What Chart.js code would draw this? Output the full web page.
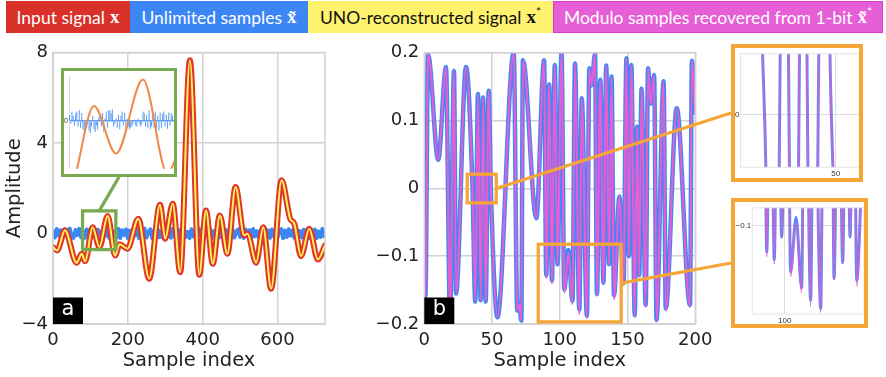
<!DOCTYPE html>
<html><head><meta charset="utf-8">
<script src="https://cdn.jsdelivr.net/npm/chart.js@4/dist/chart.umd.min.js"></script>
<style>
html,body{margin:0;padding:0;background:#fff;}
body{width:886px;height:377px;position:relative;overflow:hidden;font-family:Lato,"DejaVu Sans",sans-serif;}
.cw{position:absolute;top:0;}
.lg{position:absolute;top:1px;height:32px;display:flex;align-items:center;justify-content:center;font-size:17.5px;white-space:nowrap;box-sizing:border-box;z-index:5}
.m{font-family:"Liberation Serif",serif;font-weight:bold;font-size:19px;margin-left:5px}
.st{font-size:12px;position:relative;top:-6px}
.ins{position:absolute;box-sizing:border-box;background:#fff;z-index:4}
.ins canvas{display:block}
</style></head>
<body>
<div class="cw" style="left:0;width:360px;height:377px"><canvas id="cA" width="360" height="377"></canvas></div>
<div class="cw" style="left:360px;width:526px;height:377px"><canvas id="cB" width="526" height="377"></canvas></div>

<div class="lg" style="left:6px;width:124px;background:#d9302a;color:#fff">Input signal<span class="m">x</span></div>
<div class="lg" style="left:130px;width:178px;background:#3b86f4;color:#fff">Unlimited samples<span class="m">x&#771;</span></div>
<div class="lg" style="left:308px;width:245px;background:#fff36e;color:#111">UNO-reconstructed signal<span class="m">x</span><span class="st">*</span></div>
<div class="lg" style="left:553px;width:330px;background:#e65fd6;color:#fff;border:1.5px solid #d23fcc">Modulo samples recovered from 1-bit<span class="m">x&#771;</span><span class="st">*</span></div>

<div id="insA" class="ins" style="left:61px;top:68px;width:116px;height:109px;border:3px solid #79aa52"><canvas id="cIA" width="110" height="103"></canvas></div>
<div id="insB1" class="ins" style="left:731px;top:44px;width:132px;height:138px;border:4px solid #f5a636"><canvas id="cIB1" width="124" height="130"></canvas></div>
<div id="insB2" class="ins" style="left:731px;top:198px;width:137px;height:130px;border:4px solid #f5a636"><canvas id="cIB2" width="129" height="122"></canvas></div>

<script>
// ---------- DATA ----------
// Panel a: input signal x (and UNO reconstruction x*, which coincides) — extrema
const aSigX = [0, 11, 32, 63, 77, 86, 106, 124, 146, 166, 178, 199, 228, 257, 286, 300, 320, 340, 366, 391, 409, 427, 446, 466, 488, 511, 520, 543, 562, 583, 611, 634, 645, 663, 685, 708, 727];
const aSigY = [-0.6, -0.75, 0.14, -1.29, -0.9, -1.23, 0.28, -0.6, 0.77, -0.97, -0.48, -0.67, 0.65, -2.0, 1.27, -0.23, 1.32, -1.71, 7.66, -1.82, 1.02, -1.34, 0.80, -0.9, 2.05, -0.08, -0.01, -1.29, 0.28, -2.44, 2.35, 0.65, 0.43, -1.0, 0.21, -1.15, -0.53];
const aRecY = aSigY; // reconstructed signal overlays the input
// Panel a: unlimited (modulo) samples, every 5th sample index
const aBlueStep = 5;
const aBlueY = [0.12,-0.18,0.2,-0.1,0.15,-0.22,0.08,0.18,-0.15,0.22,-0.12,-0.2,0.16,-0.08,0.21,-0.17,0.1,-0.2,0.18,-0.05,
0.2,-0.16,0.12,-0.22,0.17,0.05,-0.19,0.22,-0.11,0.14,-0.2,0.19,-0.14,0.09,-0.18,0.21,-0.2,0.15,-0.07,0.18,
-0.21,0.13,-0.16,0.2,-0.09,0.17,-0.2,0.11,-0.15,0.22,-0.18,0.06,0.19,-0.2,0.14,-0.12,0.2,-0.17,0.1,-0.21,
0.18,-0.08,0.16,-0.19,0.21,-0.14,0.12,-0.2,0.17,-0.1,0.2,-0.16,0.08,-0.21,0.19,-0.13,0.15,-0.18,0.22,-0.06,
0.14,-0.2,0.17,-0.12,0.2,-0.19,0.1,-0.15,0.21,-0.17,0.13,-0.08,0.18,-0.21,0.16,-0.11,0.2,-0.18,0.07,0.19,
-0.16,0.12,-0.2,0.18,-0.09,0.15,-0.22,0.2,-0.13,0.1,-0.19,0.17,-0.15,0.21,-0.07,0.14,-0.2,0.18,-0.12,0.16,
-0.18,0.09,0.2,-0.21,0.13,-0.16,0.19,-0.1,0.15,-0.2,0.22,-0.14,0.11,-0.18,0.17,-0.09,0.2,-0.19,0.14,-0.12,
0.18,-0.2,0.1,-0.16,0.21,-0.13];
// Inset of panel a: modulo samples at indices 86..170
const iaFirst = 86;
const iaBlueY = [0.12,-0.05,0.18,0.1,-0.08,0.15,0.18,-0.1,0.2,-0.12,
0.15,-0.15,-0.18,-0.2,-0.12,0.05,-0.18,-0.22,-0.1,0.1,
-0.15,-0.2,-0.08,-0.16,0.08,0.1,-0.1,0.15,-0.2,0.05,
0.18,-0.12,0.2,0.2,0.15,0.22,-0.1,-0.05,0.05,-0.12,
0.12,-0.15,0.1,0.18,-0.08,0.15,-0.2,0.05,-0.1,-0.15,
-0.12,-0.1,-0.05,0.03,-0.08,-0.1,0.05,-0.04,-0.1,-0.06,
0.18,0.15,-0.1,0.12,-0.12,0.2,-0.15,-0.1,0.15,-0.12,
0.18,-0.15,0.1,-0.18,0.16,-0.12,0.14,0.18,-0.1,0.12,
-0.14,0.16,-0.08,0.15,0.1];
// Panel b: unlimited samples (blue) and recovered modulo samples (magenta) — extrema
const bX = [0,0.8,2.8,10.3,16,19,21.9,23.4,30.8,35.6, 37.6,39.6,41.6,43.4,45.3,47.5,49.1,54,66,68.6,
70,71.6,72.8,82.7,88.4,90,92.2,94.2,96.3,98.3, 101.3,103.3,106.3,109.4,111.2,114.4,116.2,120,121.8,123.5,
126,127.4,129.9,132.2,134.3,136.3,138.2,140,144,147, 149.2,151,152.8,155.3,157,158.6,160.3,163.4,165.1,167.1,
169.6,171.4,176.6,178.2,186.3,196.1,197.5,200];
const bBlueY = [-0.138,-0.16,0.197,0.042,0.179,-0.19,0.173,-0.155,0.179,0.0, -0.167,0.139,-0.165,0.134,-0.167,0.144,0.0,-0.19,0.2,-0.18,
-0.17,-0.195,0.189,-0.044,0.189,-0.128,0.153,-0.136,0.182,-0.112, 0.2,-0.149,-0.091,-0.166,0.184,-0.179,0.133,-0.188,0.177,0.152,
0.199,-0.156,0.16,-0.139,0.181,-0.112,0.165,-0.158,-0.012,-0.14, 0.192,-0.10,0.182,-0.187,0.091,-0.128,0.147,-0.172,0.177,0.125,
0.167,-0.194,0.158,-0.177,0.118,-0.172,0.188,0.111];
const bMagY = [-0.138,-0.16,0.2,0.042,0.179,-0.19,0.173,-0.155,0.179,0.0, -0.167,0.139,-0.165,0.134,-0.167,0.144,0.0,-0.19,0.2,-0.18,
-0.17,-0.195,0.189,-0.044,0.189,-0.133,0.153,-0.141,0.182,-0.113, 0.2,-0.154,-0.095,-0.171,0.184,-0.186,0.133,-0.192,0.177,0.152,
0.199,-0.158,0.16,-0.141,0.181,-0.113,0.165,-0.164,-0.012,-0.142, 0.192,-0.10,0.182,-0.189,0.091,-0.13,0.147,-0.175,0.177,0.125,
0.167,-0.196,0.158,-0.18,0.118,-0.175,0.188,0.111];
// tick values
const aXTicks = [0, 200, 400, 600];
const aYTicks = [-4, 0, 4, 8];
const bXTicks = [0, 50, 100, 150, 200];
const bYTicks = [-0.2, -0.1, 0, 0.1, 0.2];

// ---------- HELPERS ----------
const pts = (xs, ys) => xs.map((x, i) => ({x, y: ys[i]}));
const idxPts = (start, step, ys) => ys.map((y, i) => ({x: start + i * step, y}));
const fmt = v => String(Math.round(v * 10) / 10).replace('-', '\u2212');
const setTicks = list => s => { s.ticks = list.map(v => ({value: v})); };

Chart.defaults.font.family = '"DejaVu Sans", sans-serif';
Chart.defaults.color = '#222';
Chart.defaults.elements.line.borderJoinStyle = 'round';
Chart.defaults.elements.line.borderCapStyle = 'round';

const decor = {
  id: 'decor',
  afterDraw(chart, args, o) {
    if (!o || !o.on) return;
    const {ctx, chartArea: ca} = chart;
    const xs = chart.scales.x, ys = chart.scales.y;
    ctx.save();
    if (o.frame) {
      ctx.strokeStyle = o.frame; ctx.lineWidth = o.frameWidth || 1.5;
      ctx.strokeRect(ca.left, ca.top, ca.right - ca.left, ca.bottom - ca.top);
    }
    if (o.tag) {
      ctx.fillStyle = '#000';
      ctx.fillRect(ca.left, ca.bottom - 26.5, 30, 26.5);
      ctx.fillStyle = '#fff'; ctx.font = '21px "DejaVu Sans"';
      ctx.textAlign = 'center'; ctx.textBaseline = 'middle';
      ctx.fillText(o.tag, ca.left + 15, ca.bottom - 14);
    }
    (o.zooms || []).forEach(z => {
      const x0 = xs.getPixelForValue(z.x[0]), x1 = xs.getPixelForValue(z.x[1]);
      const y0 = ys.getPixelForValue(z.y[1]), y1 = ys.getPixelForValue(z.y[0]);
      ctx.strokeStyle = z.color; ctx.lineWidth = 3.3;
      ctx.strokeRect(x0, y0, x1 - x0, y1 - y0);
      const cr = chart.canvas.getBoundingClientRect();
      const tr = document.getElementById(z.target).getBoundingClientRect();
      let sx, sy, ex, ey;
      if (z.link === 'up') { sx = (x0 + x1) / 2; sy = y0; ex = (tr.left + tr.right) / 2 - cr.left; ey = tr.bottom - cr.top; }
      else { sx = x1; sy = (y0 + y1) / 2; ex = tr.left - cr.left; ey = (tr.top + tr.bottom) / 2 - cr.top; }
      ctx.beginPath(); ctx.moveTo(sx, sy); ctx.lineTo(ex, ey); ctx.stroke();
    });
    ctx.restore();
  }
};
Chart.register(decor);

const GRID = '#d2d2d2';
const base = {responsive: false, animation: false, devicePixelRatio: 1, events: [],
  elements: {point: {radius: 0}}};

// ---------- PANEL A ----------
new Chart(document.getElementById('cA'), {
  type: 'line',
  data: {datasets: [
    {label: 'UNO-reconstructed signal x*', data: pts(aSigX, aRecY), borderColor: '#fff35a', borderWidth: 2, cubicInterpolationMode: 'monotone'},
    {label: 'Input signal x', data: pts(aSigX, aSigY), borderColor: '#e0352b', borderWidth: 6, cubicInterpolationMode: 'monotone'},
    {label: 'Unlimited samples', data: idxPts(0, aBlueStep, aBlueY), borderColor: '#3a86f3', borderWidth: 3.8, tension: 0}
  ]},
  options: Object.assign({}, base, {
    layout: {padding: {top: 52.5, right: 35, bottom: 0, left: 0}},
    plugins: {legend: {display: false}, tooltip: {enabled: false},
      decor: {on: true, frame: GRID, frameWidth: 1.5, tag: 'a',
        zooms: [{x: [79, 168], y: [-0.71, 1.0], target: 'insA', link: 'up', color: '#79aa52'}]}},
    scales: {
      x: {type: 'linear', min: 0, max: 727, afterBuildTicks: setTicks(aXTicks), afterFit: s => { s.height = 53; },
        grid: {color: GRID, lineWidth: 1.5, drawTicks: false}, border: {color: GRID, width: 1.5},
        ticks: {font: {size: 18}, padding: 6, color: '#222', callback: fmt, maxRotation: 0},
        title: {display: true, text: 'Sample index', font: {size: 19.5}, color: '#222', padding: {top: 0, bottom: 4}}},
      y: {type: 'linear', min: -4, max: 8, afterBuildTicks: setTicks(aYTicks), afterFit: s => { s.width = 53; },
        grid: {color: GRID, lineWidth: 1.5, drawTicks: false}, border: {color: GRID, width: 1.5},
        ticks: {font: {size: 18}, padding: 5, color: '#222', callback: fmt},
        title: {display: true, text: 'Amplitude', font: {size: 19.5}, color: '#222', padding: {top: 3, bottom: 0}}}
    }
  })
});

// ---------- PANEL B ----------
new Chart(document.getElementById('cB'), {
  type: 'line',
  data: {datasets: [
    {label: 'Modulo samples recovered', data: pts(bX, bMagY), borderColor: '#ea5cd3', borderWidth: 2, cubicInterpolationMode: 'monotone'},
    {label: 'Unlimited samples', data: pts(bX, bBlueY), borderColor: '#4189f2', borderWidth: 4.5, cubicInterpolationMode: 'monotone'}
  ]},
  options: Object.assign({}, base, {
    layout: {padding: {top: 52.7, right: 190.7, bottom: 0, left: 0}},
    plugins: {legend: {display: false}, tooltip: {enabled: false},
      decor: {on: true, frame: GRID, frameWidth: 1.5, tag: 'b',
        zooms: [
          {x: [31.7, 53.1], y: [-0.0214, 0.0208], target: 'insB1', link: 'right', color: '#f5a636'},
          {x: [84.1, 145.3], y: [-0.1969, -0.0824], target: 'insB2', link: 'right', color: '#f5a636'}
        ]}},
    scales: {
      x: {type: 'linear', min: 0, max: 200, afterBuildTicks: setTicks(bXTicks), afterFit: s => { s.height = 53; },
        grid: {color: GRID, lineWidth: 1.5, drawTicks: false}, border: {color: GRID, width: 1.5},
        ticks: {font: {size: 18}, padding: 6, color: '#222', callback: fmt, maxRotation: 0},
        title: {display: true, text: 'Sample index', font: {size: 19.5}, color: '#222', padding: {top: 0, bottom: 4}}},
      y: {type: 'linear', min: -0.2, max: 0.2, afterBuildTicks: setTicks(bYTicks), afterFit: s => { s.width = 64.3; },
        grid: {color: GRID, lineWidth: 1.5, drawTicks: false}, border: {color: GRID, width: 1.5},
        ticks: {font: {size: 18}, padding: 5, color: '#222', callback: fmt}}
    }
  })
});

// ---------- INSET A ----------
new Chart(document.getElementById('cIA'), {
  type: 'line',
  data: {datasets: [
    {type: 'line', data: pts(aSigX, aSigY), borderColor: '#ef8a4a', borderWidth: 2, cubicInterpolationMode: 'monotone', clip: 0},
    {type: 'bar', data: idxPts(iaFirst, 1, iaBlueY), backgroundColor: '#5f9ef6', borderWidth: 0, barPercentage: 0.85, categoryPercentage: 1}
  ]},
  options: Object.assign({}, base, {
    layout: {padding: 0},
    plugins: {legend: {display: false}, tooltip: {enabled: false}},
    scales: {
      x: {type: 'linear', min: 85.6, max: 171.3, offset: false, display: false},
      y: {type: 'linear', min: -0.883, max: 0.833, afterBuildTicks: setTicks([0]), afterFit: s => { s.width = 5; },
        grid: {color: '#5f9ef6', lineWidth: 1.4, drawTicks: false}, border: {color: '#dadada', width: 1},
        ticks: {font: {size: 7, family: '"Liberation Sans"'}, padding: 1, color: '#333', callback: fmt}}
    }
  })
});

// ---------- INSETS B ----------
function insetB(id, xr, yr, xt, yt, yw, xh, padTop) {
  new Chart(document.getElementById(id), {
    type: 'line',
    data: {datasets: [
      {data: pts(bX, bMagY), borderColor: 'rgba(230,88,210,0.8)', borderWidth: 1.6, cubicInterpolationMode: 'monotone', clip: 0},
      {data: pts(bX, bBlueY), borderColor: '#5a8ef2', borderWidth: 3, cubicInterpolationMode: 'monotone', clip: 0}
    ]},
    options: Object.assign({}, base, {
      layout: {padding: {top: padTop, right: 0, bottom: 0, left: 0}},
      plugins: {legend: {display: false}, tooltip: {enabled: false}, decor: {on: true, frame: '#e4e4e4', frameWidth: 1}},
      scales: {
        x: {type: 'linear', min: xr[0], max: xr[1], afterBuildTicks: setTicks(xt), afterFit: s => { s.height = xh; },
          grid: {color: '#dcdcdc', lineWidth: 1, drawTicks: false}, border: {display: false},
          ticks: {font: {size: 8, family: '"Liberation Sans"'}, padding: 1.5, color: '#333', callback: fmt, maxRotation: 0}},
        y: {type: 'linear', min: yr[0], max: yr[1], afterBuildTicks: setTicks(yt), afterFit: s => { s.width = yw; },
          grid: {color: '#dcdcdc', lineWidth: 1, drawTicks: false}, border: {display: false},
          ticks: {font: {size: 8, family: '"Liberation Sans"'}, padding: 1, color: '#333', callback: fmt}}
      }
    })
  });
}
insetB('cIB1', [30.74, 54.7], [-0.0205, 0.0235], [50], [0], 5.5, 10.7, 1.3);
insetB('cIB2', [82, 144.05], [-0.1936, -0.0809], [100], [-0.1], 17.3, 10, 0);
</script>
</body></html>
